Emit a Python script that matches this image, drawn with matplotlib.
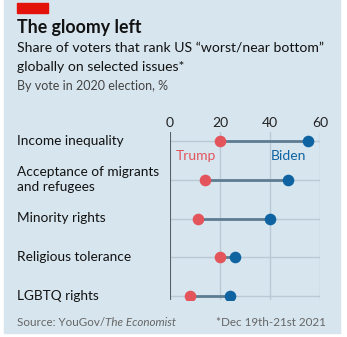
import matplotlib.pyplot as plt
import matplotlib.patches as mpatches
import matplotlib.transforms as mtransforms

issues = ["Income inequality", "Acceptance of migrants\nand refugees",
          "Minority rights", "Religious tolerance", "LGBTQ rights"]
trump = [20, 14, 11, 20, 8]
biden = [55, 47, 40, 26, 24]
ticks = [0, 20, 40, 60]

W, H = 347, 337
BG = "#d7e5ee"
RED = "#e3545b"
BLUE = "#0f63a0"
LINE = "#5d7c91"
GRID = "#b9cad6"
FONT = "Lato"


def fx(px):
    return px / W


def fy(py):
    return 1 - py / H


fig = plt.figure(figsize=(W / 100, H / 100), dpi=100, facecolor="white")
fig.patches.append(mpatches.Rectangle((fx(4), fy(333)), fx(336), 333 / H,
                                      transform=fig.transFigure, color=BG, zorder=-10))
fig.patches.append(mpatches.Rectangle((fx(17), fy(13)), fx(31), 10 / H,
                                      transform=fig.transFigure, color="#e3120b", zorder=-5))

fig.text(fx(17), fy(27), "The gloomy left", fontsize=12.8, fontweight="bold",
         family=FONT, color="#121212", va="center")
fig.text(fx(17), fy(48), "Share of voters that rank US \u201cworst/near bottom\u201d",
         fontsize=10.1, family=FONT, color="#121212", va="center")
fig.text(fx(17), fy(67), "globally on selected issues*",
         fontsize=10.1, family=FONT, color="#121212", va="center")
fig.text(fx(17), fy(86), "By vote in 2020 election, %",
         fontsize=9, family=FONT, color="#444444", va="center")

# axes: 0 at x=170px, 60 at x=320px; rows 141..296px
ax = fig.add_axes([fx(170), fy(300), (320 - 170) / W, (300 - 132) / H])
ax.set_facecolor("none")
ax.set_xlim(0, 60)
ax.set_ylim(4 + 4 / 38.75, -9 / 38.75)
for s in ax.spines.values():
    s.set_visible(False)
ax.axvline(0, color="#555f66", lw=1.5, zorder=2)
for t in ticks[1:]:
    ax.axvline(t, color=GRID, lw=1, zorder=0)
ypos = list(range(len(issues)))
for y in ypos:
    ax.axhline(y, color=GRID, lw=1, zorder=0)
ax.hlines(ypos, trump, biden, color=LINE, lw=2, zorder=3)
ax.scatter(trump, ypos, s=70, color=RED, zorder=4, linewidths=0)
ax.scatter(biden, ypos, s=70, color=BLUE, zorder=4, linewidths=0)
ax.set_xticks(ticks)
ax.xaxis.tick_top()
ax.tick_params(axis="x", length=0, pad=2, labelsize=10, colors="#222222")
for lab in ax.get_xticklabels():
    lab.set_family(FONT)
ax.set_yticks([])
ax.text(18.6, 0.4, "Trump", color=RED, fontsize=10, family=FONT, ha="right", va="center")
ax.text(54.5, 0.4, "Biden", color=BLUE, fontsize=10, family=FONT, ha="right", va="center")

label_tr = mtransforms.blended_transform_factory(fig.transFigure, ax.transData)
for y, name in zip(ypos, issues):
    ax.text(fx(17), y, name, fontsize=9.8, family=FONT, transform=label_tr,
            color="#121212", va="center", ha="left", linespacing=1.25)

src = fig.text(fx(17), fy(323), "Source: YouGov/", fontsize=8.4, family=FONT,
               color="#666666", va="center")
fig.canvas.draw()
bb = src.get_window_extent()
fig.text(bb.x1 / W, fy(323), "The Economist", fontsize=8.4, family=FONT,
         style="italic", color="#666666", va="center")
fig.text(fx(326), fy(323), "*Dec 19th-21st 2021", fontsize=8.4, family=FONT,
         color="#666666", va="center", ha="right")

fig.savefig("out.png", dpi=100, facecolor="white")
